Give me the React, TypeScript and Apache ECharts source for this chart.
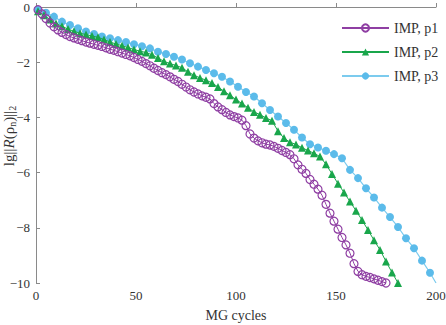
import React, { useEffect, useRef } from "react";
import * as echarts from "echarts";

const seriesNames = ["IMP, p1", "IMP, p2", "IMP, p3"];

// cycle numbers: first cycle and step between markers
const p1Start = 1, p1Step = 2;
const p2Start = 1, p2Step = 3;
const p3Start = 1, p3Step = 4;

const p1Values = [
  -0.1, -0.25, -0.42, -0.58, -0.72, -0.83, -0.92, -1.0, -1.07, -1.12,
  -1.17, -1.22, -1.27, -1.31, -1.35, -1.39, -1.43, -1.48, -1.53, -1.57,
  -1.62, -1.67, -1.72, -1.77, -1.83, -1.9, -1.97, -2.05, -2.13, -2.22,
  -2.3, -2.38, -2.45, -2.53, -2.62, -2.7, -2.8, -2.9, -3.0, -3.08,
  -3.15, -3.22, -3.27, -3.33, -3.5, -3.62, -3.72, -3.82, -3.91, -3.97,
  -4.02, -4.1, -4.3, -4.6, -4.75, -4.85, -4.92, -4.97, -5.0, -5.05,
  -5.12, -5.2, -5.27, -5.35, -5.5, -5.72, -5.88, -6.03, -6.25, -6.42,
  -6.6, -6.82, -7.15, -7.47, -7.76, -8.05, -8.35, -8.62, -8.92, -9.3,
  -9.58, -9.7, -9.76, -9.8, -9.85, -9.9, -9.95, -10.0,
];

const p2Values = [
  -0.15, -0.3, -0.45, -0.6, -0.7, -0.8, -0.88, -0.95, -1.0, -1.05,
  -1.1, -1.18, -1.27, -1.34, -1.4, -1.47, -1.54, -1.6, -1.65, -1.73,
  -1.85, -1.97, -2.05, -2.12, -2.2, -2.35, -2.47, -2.57, -2.65, -2.75,
  -2.9, -3.05, -3.2, -3.35, -3.5, -3.65, -3.8, -3.9, -4.02, -4.12,
  -4.5, -4.75, -4.9, -4.98, -5.1, -5.2, -5.3, -5.42, -5.7, -6.05,
  -6.4, -6.72, -7.05, -7.38, -7.72, -8.08, -8.45, -8.8, -9.22, -9.62,
  -10.0,
];

const p3Values = [
  -0.1, -0.21, -0.35, -0.53, -0.65, -0.77, -0.89, -0.98, -1.07, -1.13,
  -1.2, -1.27, -1.35, -1.42, -1.5, -1.62, -1.7, -1.8, -1.9, -2.04,
  -2.16, -2.28, -2.4, -2.53, -2.7, -2.89, -3.08, -3.24, -3.49, -3.73,
  -3.97, -4.2, -4.45, -4.73, -4.97, -5.09, -5.21, -5.33, -5.48, -5.9,
  -6.2, -6.57, -6.9, -7.27, -7.61, -7.97, -8.38, -8.74, -9.19, -9.63,
];
// final point of p3, drawn without a marker
const p3End = [200, -10];

const xTicks = { min: 0, max: 200, interval: 50 };
const yTicks = { min: -10, max: 0, interval: 2 };

const PURPLE = "#8f3fa3";
const GREEN = "#19a64b";
const BLUE = "#5bbbea";
const FONT = "'Liberation Serif', 'Times New Roman', serif";

function pairs(start: number, step: number, vals: number[]) {
  return vals.map((v, i) => [start + step * i, v]);
}

export default function App() {
  const ref = useRef<HTMLDivElement>(null);
  useEffect(() => {
    if (!ref.current) return;
    const chart = echarts.init(ref.current, null, { renderer: "svg" });
    const axisLine = { show: true, lineStyle: { color: "#8a8a8a", width: 1 } };
    const p3Data: any[] = pairs(p3Start, p3Step, p3Values);
    p3Data.push({ value: p3End, symbol: "none" });
    chart.setOption({
      animation: false,
      backgroundColor: "#fff",
      grid: { left: 36, right: 10, top: 7, bottom: 42, containLabel: false, outerBoundsMode: "none" },
      legend: {
        orient: "vertical",
        left: 336,
        top: 16,
        itemWidth: 47,
        itemHeight: 9,
        itemGap: 10,
        textStyle: { fontFamily: FONT, fontSize: 14, color: "#333" },
        data: seriesNames,
      },
      xAxis: {
        type: "value",
        min: xTicks.min,
        max: xTicks.max,
        interval: xTicks.interval,
        name: "MG cycles",
        nameLocation: "middle",
        nameGap: 25,
        nameMoveOverlap: false,
        nameTextStyle: { fontFamily: FONT, fontSize: 14, color: "#333" },
        axisLine,
        axisTick: { show: true, inside: true, length: 4, lineStyle: { color: "#8a8a8a" } },
        axisLabel: { fontFamily: FONT, fontSize: 13, color: "#333", margin: 6 },
        splitLine: { show: false },
      },
      yAxis: {
        type: "value",
        min: yTicks.min,
        max: yTicks.max,
        interval: yTicks.interval,
        name: "lg||{i|R}(ρ{s|n})||{s|2}",
        nameLocation: "middle",
        nameRotate: 90,
        nameGap: 19,
        nameMoveOverlap: false,
        nameTextStyle: {
          fontFamily: FONT,
          fontSize: 15,
          color: "#333",
          padding: [0, 0, 0, 18],
          rich: {
            i: { fontFamily: FONT, fontSize: 15, fontStyle: "italic", color: "#333" },
            s: { fontFamily: FONT, fontSize: 10, color: "#333", verticalAlign: "bottom", padding: [6, 0, 0, 0] },
          },
        },
        axisLine,
        axisTick: { show: true, inside: true, length: 4, lineStyle: { color: "#8a8a8a" } },
        axisLabel: {
          fontFamily: FONT,
          fontSize: 13,
          color: "#333",
          margin: 6,
          formatter: (v: number) => String(v).replace("-", "\u2212"),
        },
        splitLine: { show: false },
      },
      series: [
        {
          name: seriesNames[0],
          type: "line",
          data: pairs(p1Start, p1Step, p1Values),
          symbol: "circle",
          symbolSize: 8,
          lineStyle: { color: PURPLE, width: 1 },
          itemStyle: { color: "rgba(255,255,255,0)", borderColor: PURPLE, borderWidth: 1.2 },
          z: 3,
        },
        {
          name: seriesNames[1],
          type: "line",
          data: pairs(p2Start, p2Step, p2Values),
          symbol: "triangle",
          symbolSize: 8,
          lineStyle: { color: GREEN, width: 1 },
          itemStyle: { color: GREEN, borderWidth: 0 },
          z: 2,
        },
        {
          name: seriesNames[2],
          type: "line",
          data: p3Data,
          symbol: "circle",
          symbolSize: 8,
          lineStyle: { color: "#7ccbee", width: 1.2 },
          itemStyle: { color: BLUE, borderWidth: 0 },
          z: 1,
        },
      ],
    });
    return () => chart.dispose();
  }, []);
  return <div ref={ref} style={{ width: 446, height: 325, position: "absolute", left: 0, top: 0 }} />;
}
